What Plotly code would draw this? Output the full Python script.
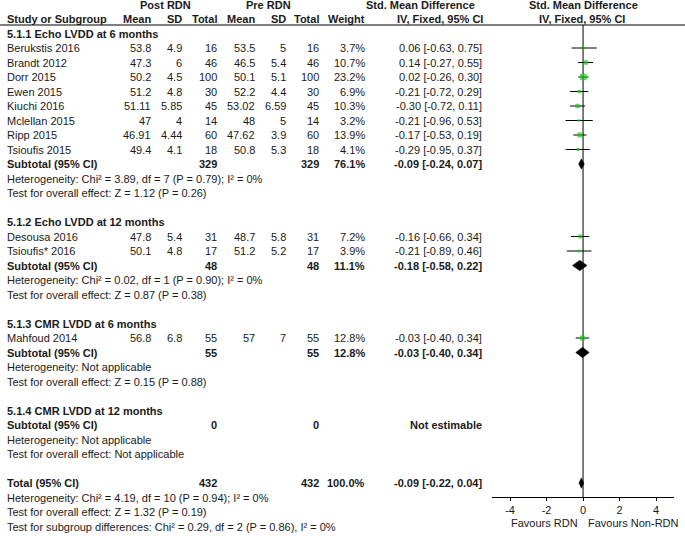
import math
import plotly.graph_objects as go

# ---------------- data ----------------
group_titles = ["5.1.1 Echo LVDD at 6 months", "5.1.2 Echo LVDD at 12 months",
                "5.1.3 CMR LVDD at 6 months", "5.1.4 CMR LVDD at 12 months"]
study_group = [0, 0, 0, 0, 0, 0, 0, 0, 1, 1, 2]
study_names = ["Berukstis 2016", "Brandt 2012", "Dorr 2015", "Ewen 2015", "Kiuchi 2016",
               "Mclellan 2015", "Ripp 2015", "Tsioufis 2015", "Desousa 2016",
               "Tsioufis* 2016", "Mahfoud 2014"]
post_mean = [53.8, 47.3, 50.2, 51.2, 51.11, 47, 46.91, 49.4, 47.8, 50.1, 56.8]
post_sd = [4.9, 6, 4.5, 4.8, 5.85, 4, 4.44, 4.1, 5.4, 4.8, 6.8]
post_n = [16, 46, 100, 30, 45, 14, 60, 18, 31, 17, 55]
pre_mean = [53.5, 46.5, 50.1, 52.2, 53.02, 48, 47.62, 50.8, 48.7, 51.2, 57]
pre_sd = [5, 5.4, 5.1, 4.4, 6.59, 5, 3.9, 5.3, 5.8, 5.2, 7]
pre_n = [16, 46, 100, 30, 45, 14, 60, 18, 31, 17, 55]
weight = [3.7, 10.7, 23.2, 6.9, 10.3, 3.2, 13.9, 4.1, 7.2, 3.9, 12.8]
smd = [0.06, 0.14, 0.02, -0.21, -0.30, -0.21, -0.17, -0.29, -0.16, -0.21, -0.03]
ci_low = [-0.63, -0.27, -0.26, -0.72, -0.72, -0.96, -0.53, -0.95, -0.66, -0.89, -0.40]
ci_high = [0.75, 0.55, 0.30, 0.29, 0.11, 0.53, 0.19, 0.37, 0.34, 0.46, 0.34]

sub_post_n = [329, 48, 55, 0]
sub_pre_n = [329, 48, 55, 0]
sub_weight = [76.1, 11.1, 12.8, None]
sub_smd = [-0.09, -0.18, -0.03, None]
sub_low = [-0.24, -0.58, -0.40, None]
sub_high = [0.07, 0.22, 0.34, None]
sub_het = ["Heterogeneity: Chi² = 3.89, df = 7 (P = 0.79); I² = 0%",
           "Heterogeneity: Chi² = 0.02, df = 1 (P = 0.90); I² = 0%",
           "Heterogeneity: Not applicable",
           "Heterogeneity: Not applicable"]
sub_test = ["Test for overall effect: Z = 1.12 (P = 0.26)",
            "Test for overall effect: Z = 0.87 (P = 0.38)",
            "Test for overall effect: Z = 0.15 (P = 0.88)",
            "Test for overall effect: Not applicable"]

total_post_n = 432
total_pre_n = 432
total_weight = 100.0
total_smd = -0.09
total_low = -0.22
total_high = 0.04
total_notes = ["Heterogeneity: Chi² = 4.19, df = 10 (P = 0.94); I² = 0%",
               "Test for overall effect: Z = 1.32 (P = 0.19)",
               "Test for subgroup differences: Chi² = 0.29, df = 2 (P = 0.86), I² = 0%"]

x_ticks = [-4, -2, 0, 2, 4]
x_tick_labels = ["-4", "-2", "0", "2", "4"]
favours_left = "Favours RDN"
favours_right = "Favours Non-RDN"

# ---------------- layout constants ----------------
W, H = 685, 536
ROW0_PX, ROW_PX = 33.5, 14.5
FONT = "Liberation Sans, Arial, sans-serif"
FS = 11
TXT = "#1a1a1a"
GREEN = "#1fc41f"
X_LEFT = 6
COL = dict(post_mean=152, post_sd=183, post_n=218, pre_mean=256, pre_sd=287,
           pre_n=320, weight=366, ci=483)
AXIS_PX = 497
HEADER_LINE_PX = 25
AX_LEFT_PX, AX_RIGHT_PX = 491.8, 674.3


def row_of(px):
    return (px - ROW0_PX) / ROW_PX


def paper_x(px):
    return px / W


annotations = []


def txt(xpx, row, s, anchor="left", bold=False, xref="paper"):
    annotations.append(dict(
        x=paper_x(xpx) if xref == "paper" else xpx, xref=xref, y=row, yref="y",
        text=f"<b>{s}</b>" if bold else s, showarrow=False, xanchor=anchor,
        yanchor="middle", borderpad=0, font=dict(family=FONT, size=FS, color=TXT)))


def fmt_ci(e, lo, hi):
    return f"{e:.2f} [{lo:.2f}, {hi:.2f}]"


# headers
txt(165, -2, "Post RDN", "center", True)
txt(268, -2, "Pre RDN", "center", True)
txt(420, -2, "Std. Mean Difference", "center", True)
txt(583, -2, "Std. Mean Difference", "center", True)
txt(X_LEFT, -1, "Study or Subgroup", "left", True)
for key, lab in [("post_mean", "Mean"), ("post_sd", "SD"), ("post_n", "Total"),
                 ("pre_mean", "Mean"), ("pre_sd", "SD"), ("pre_n", "Total"),
                 ("weight", "Weight")]:
    txt(COL[key], -1, lab, "right", True)
txt(440, -1, "IV, Fixed, 95% CI", "center", True)
txt(582, -1, "IV, Fixed, 95% CI", "center", True)

ci_x, ci_y = [], []
sq_x, sq_y, sq_s = [], [], []
dia_x, dia_y = [], []
DH = 0.36


def diamond(r, e, lo, hi):
    dia_x.extend([lo, e, hi, e, lo, None])
    dia_y.extend([r, r - DH, r, r + DH, r, None])


row = 0
for g, title in enumerate(group_titles):
    txt(X_LEFT, row, title, "left", True)
    row += 1
    for i, sg in enumerate(study_group):
        if sg != g:
            continue
        txt(X_LEFT, row, study_names[i])
        txt(COL["post_mean"], row, f"{post_mean[i]:g}", "right")
        txt(COL["post_sd"], row, f"{post_sd[i]:g}", "right")
        txt(COL["post_n"], row, f"{post_n[i]}", "right")
        txt(COL["pre_mean"], row, f"{pre_mean[i]:g}", "right")
        txt(COL["pre_sd"], row, f"{pre_sd[i]:g}", "right")
        txt(COL["pre_n"], row, f"{pre_n[i]}", "right")
        txt(COL["weight"], row, f"{weight[i]:.1f}%", "right")
        txt(COL["ci"], row, fmt_ci(smd[i], ci_low[i], ci_high[i]), "right")
        ci_x.extend([ci_low[i], ci_high[i], None])
        ci_y.extend([row, row, None])
        sq_x.append(smd[i])
        sq_y.append(row)
        sq_s.append(1.4 * math.sqrt(weight[i]))
        row += 1
    txt(X_LEFT, row, "Subtotal (95% CI)", "left", True)
    txt(COL["post_n"], row, f"{sub_post_n[g]}", "right", True)
    txt(COL["pre_n"], row, f"{sub_pre_n[g]}", "right", True)
    if sub_smd[g] is not None:
        txt(COL["weight"], row, f"{sub_weight[g]:.1f}%", "right", True)
        txt(COL["ci"], row, fmt_ci(sub_smd[g], sub_low[g], sub_high[g]), "right", True)
        diamond(row, sub_smd[g], sub_low[g], sub_high[g])
    else:
        txt(COL["ci"], row, "Not estimable", "right", True)
    row += 1
    txt(X_LEFT, row, sub_het[g])
    row += 1
    txt(X_LEFT, row, sub_test[g])
    row += 2

txt(X_LEFT, row, "Total (95% CI)", "left", True)
txt(COL["post_n"], row, f"{total_post_n}", "right", True)
txt(COL["pre_n"], row, f"{total_pre_n}", "right", True)
txt(COL["weight"], row, f"{total_weight:.1f}%", "right", True)
txt(COL["ci"], row, fmt_ci(total_smd, total_low, total_high), "right", True)
diamond(row, total_smd, total_low, total_high)
row += 1
for note in total_notes:
    txt(X_LEFT, row, note)
    row += 1

# favours labels
txt(-0.22, row_of(523), favours_left, "right", xref="x")
txt(0.22, row_of(523), favours_right, "left", xref="x")

fig = go.Figure()
fig.add_trace(go.Scatter(x=ci_x, y=ci_y, mode="lines", line=dict(color="black", width=1),
                         hoverinfo="skip", showlegend=False))
fig.add_trace(go.Scatter(x=sq_x, y=sq_y, mode="markers",
                         marker=dict(symbol="square", size=sq_s, color=GREEN, line=dict(width=0)),
                         showlegend=False))
fig.add_trace(go.Scatter(x=dia_x, y=dia_y, mode="lines", fill="toself", fillcolor="black",
                         line=dict(color="black", width=0.5), hoverinfo="skip", showlegend=False))

shapes = [
    dict(type="line", xref="paper", yref="y", x0=0, x1=1,
         y0=row_of(HEADER_LINE_PX), y1=row_of(HEADER_LINE_PX), line=dict(color="black", width=1)),
    dict(type="line", xref="x", yref="y", x0=0, x1=0,
         y0=row_of(HEADER_LINE_PX), y1=row_of(AXIS_PX), line=dict(color="black", width=1),
         layer="below"),
]

fig.update_layout(
    width=W, height=H, margin=dict(l=0, r=0, t=0, b=0),
    paper_bgcolor="white", plot_bgcolor="rgba(0,0,0,0)",
    annotations=annotations, shapes=shapes, showlegend=False,
    font=dict(family=FONT, size=FS, color=TXT),
    xaxis=dict(range=[-5, 5], domain=[paper_x(AX_LEFT_PX), paper_x(AX_RIGHT_PX)],
               anchor="free", position=(H - AXIS_PX) / H, showline=True,
               linecolor="black", linewidth=1, ticks="outside", ticklen=3,
               tickcolor="black", tickvals=x_ticks, ticktext=x_tick_labels,
               showgrid=False, zeroline=False, fixedrange=True,
               tickfont=dict(family=FONT, size=FS, color=TXT)),
    yaxis=dict(range=[row_of(H), row_of(0)], domain=[0, 1], visible=False,
               showgrid=False, zeroline=False, fixedrange=True),
)

# remove the browser's default 8px body margin so the figure sits at the window corner
fig.write_html("out.html", config={"displayModeBar": False},
               post_script="document.body.style.margin='0';")
